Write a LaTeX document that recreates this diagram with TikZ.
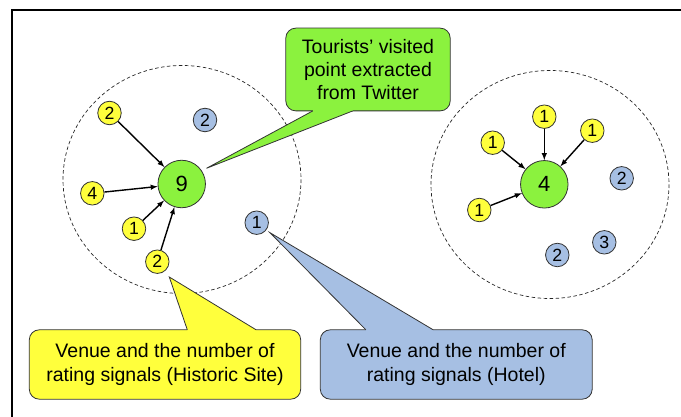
\documentclass[tikz,border=0pt]{standalone}
\usepackage{fontspec}
\setmainfont{Liberation Sans}
\usetikzlibrary{backgrounds}
\definecolor{venueyellow}{RGB}{255,255,60}
\definecolor{pointgreen}{RGB}{139,242,62}
\definecolor{hotelblue}{RGB}{166,191,227}
\tikzset{
  sig/.style={circle, draw=black!80, line width=0.8pt, inner sep=0pt, minimum size=23.5pt, font=\fontsize{17.7}{20}\selectfont},
  hist/.style={sig, fill=venueyellow},
  hotel/.style={sig, fill=hotelblue},
  visit/.style={circle, draw=black!80, line width=0.8pt, fill=pointgreen, inner sep=0pt, minimum size=47.5pt, font=\fontsize{22}{26}\selectfont},
  note/.style={inner sep=0pt, align=center, minimum height=69pt, font=\fontsize{19.5}{23.3}\selectfont},
  balloon/.style={draw=black!80, line width=0.8pt},
  area/.style={draw=black!85, dash pattern=on 3.5pt off 2.5pt, line width=0.7pt},
  signal/.style={-latex, line width=1.4pt}
}

\begin{document}
\begin{tikzpicture}[x=1pt, y=-1pt]
            \useasboundingbox (0,0) rectangle (681,417);
            \draw[line width=2pt] (12,417) -- (12,10) -- (681,10);

            % historic site
            \node[visit] (v9) at (181.7,184) {9};
            \node[hist] (h2a) at (109.5,113) {2};
            \node[hist] (h4) at (92.3,193.3) {4};
            \node[hist] (h1) at (134,228.7) {1};
            \node[hist] (h2b) at (157.3,261.7) {2};
            \node[hotel] (b2) at (205,120) {2};
            \node[hotel] (b1) at (256.7,222.7) {1};
            \foreach \s in {h2a,h4,h1,h2b}
                \draw[signal] (\s) -- (v9);

            % hotel
            \node[visit] (v4) at (544.3,184.3) {4};
            \node[hist] (k1a) at (544.3,116.7) {1};
            \node[hist] (k1b) at (492.7,142.7) {1};
            \node[hist] (k1c) at (592.3,130.7) {1};
            \node[hist] (k1d) at (479.3,210) {1};
            \node[hotel] (c2a) at (621.7,178.3) {2};
            \node[hotel] (c3) at (604.3,242.3) {3};
            \node[hotel] (c2b) at (557.3,255) {2};
            \foreach \s in {k1a,k1b,k1c,k1d}
                \draw[signal] (\s) -- (v4);

            % notes
            \node[note, minimum width=164pt, minimum height=82.4pt] (twnote) at (368,69.5) {Tourists' visited\\point extracted\\from Twitter};
            \node[note, minimum width=271pt] (histnote) at (165,364.5) {Venue and the number of\\rating signals (Historic Site)};
            \node[note, minimum width=271.5pt] (hotelnote) at (456.25,364.5) {Venue and the number of\\rating signals (Hotel)};
            \coordinate (twtip) at (206.5,168.3);
            \coordinate (histtip) at (169.3,277);
            \coordinate (hoteltip) at (270,232.7);

            \begin{scope}[on background layer]
                \draw[area] (182,179.5) ellipse [x radius=119, y radius=114];
                \draw[area] (550,184.5) ellipse [x radius=119, y radius=114];
                % green balloon
                \draw[balloon, fill=pointgreen, rounded corners=10pt] (twnote.south west) rectangle (twnote.north east);
                \fill[pointgreen] ([xshift=27pt,yshift=2pt]twnote.south west) -- ([xshift=27pt]twnote.south west) -- (twtip) -- ([xshift=67pt]twnote.south west) -- ([xshift=67pt,yshift=2pt]twnote.south west) -- cycle;
                \draw[balloon] ([xshift=27pt]twnote.south west) -- (twtip) -- ([xshift=67pt]twnote.south west);
                % yellow balloon
                \draw[balloon, fill=venueyellow, rounded corners=10pt] (histnote.south west) rectangle (histnote.north east);
                \fill[venueyellow] ([xshift=158pt,yshift=-2pt]histnote.north west) -- ([xshift=158pt]histnote.north west) -- (histtip) -- ([xshift=226.8pt]histnote.north west) -- ([xshift=226.8pt,yshift=-2pt]histnote.north west) -- cycle;
                \draw[balloon] ([xshift=158pt]histnote.north west) -- (histtip) -- ([xshift=226.8pt]histnote.north west);
                % blue balloon
                \draw[balloon, fill=hotelblue, rounded corners=10pt] (hotelnote.south west) rectangle (hotelnote.north east);
                \fill[hotelblue] ([xshift=45.6pt,yshift=-2pt]hotelnote.north west) -- ([xshift=45.6pt]hotelnote.north west) -- (hoteltip) -- ([xshift=112.9pt]hotelnote.north west) -- ([xshift=112.9pt,yshift=-2pt]hotelnote.north west) -- cycle;
                \draw[balloon] ([xshift=45.6pt]hotelnote.north west) -- (hoteltip) -- ([xshift=112.9pt]hotelnote.north west);
            \end{scope}
        \end{tikzpicture}
\end{document}
